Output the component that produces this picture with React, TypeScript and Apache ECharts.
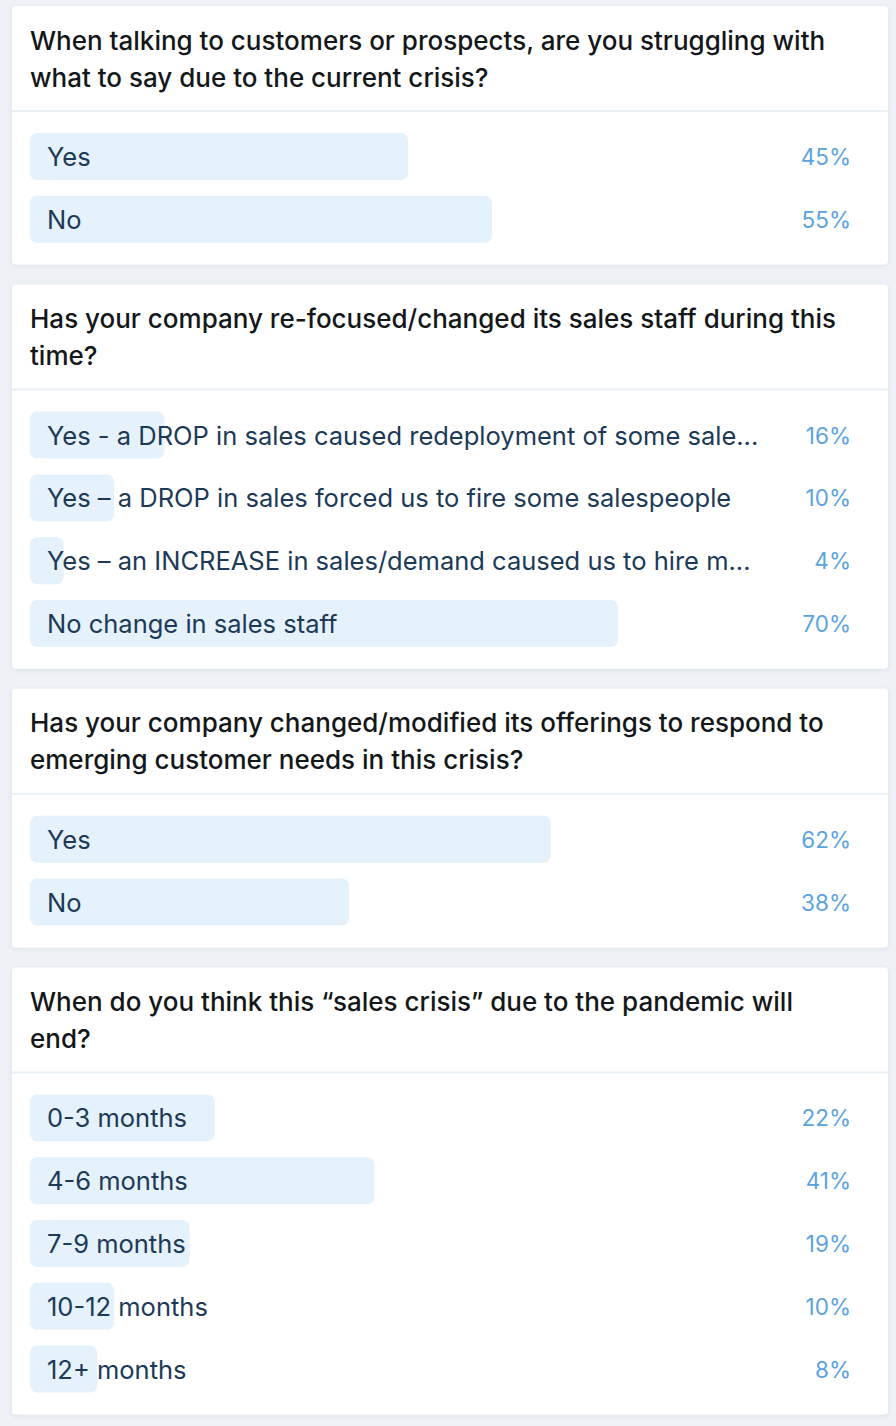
import React, { useEffect, useRef } from "react";
import * as echarts from "echarts";

const q1Title = "When talking to customers or prospects, are you struggling with\nwhat to say due to the current crisis?";
const q1Options = ["Yes", "No"];
const q1Values = [45, 55];

const q2Title = "Has your company re-focused/changed its sales staff during this\ntime?";
const q2Options = [
  "Yes - a DROP in sales caused redeployment of some sale...",
  "Yes \u2013 a DROP in sales forced us to fire some salespeople",
  "Yes \u2013 an INCREASE in sales/demand caused us to hire m...",
  "No change in sales staff",
];
const q2Values = [16, 10, 4, 70];

const q3Title = "Has your company changed/modified its offerings to respond to\nemerging customer needs in this crisis?";
const q3Options = ["Yes", "No"];
const q3Values = [62, 38];

const q4Title = "When do you think this \u201csales crisis\u201d due to the pandemic will\nend?";
const q4Options = ["0-3 months", "4-6 months", "7-9 months", "10-12 months", "12+ months"];
const q4Values = [22, 41, 19, 10, 8];

const questions = [
  { title: q1Title, options: q1Options, values: q1Values },
  { title: q2Title, options: q2Options, values: q2Values },
  { title: q3Title, options: q3Options, values: q3Values },
  { title: q4Title, options: q4Options, values: q4Values },
];

const W = 896;
const H = 1426;
const FONT = "Inter, 'Noto Sans', sans-serif";

export default function App() {
  const ref = useRef<HTMLDivElement>(null);
  useEffect(() => {
    document.body.style.margin = "0";
    document.body.style.background = "#eef1f6";
    const chart = echarts.init(ref.current!, null, { renderer: "svg" });
    const cardX = 12;
    const cardW = 876;
    const pitch = 62.8;
    let top = 6;
    const graphic: any[] = [];
    const grid: any[] = [];
    const xAxis: any[] = [];
    const yAxis: any[] = [];
    const series: any[] = [];
    questions.forEach((q, i) => {
      const n = q.options.length;
      const cardH = 133 + pitch * n;
      graphic.push({
        type: "rect",
        shape: { x: cardX, y: top, width: cardW, height: cardH, r: 4 },
        style: { fill: "#ffffff", shadowBlur: 4, shadowColor: "rgba(40,60,90,0.08)", shadowOffsetY: 1 },
        z: 0,
      });
      graphic.push({
        type: "rect",
        shape: { x: cardX, y: top + 104, width: cardW, height: 2 },
        style: { fill: "#eaeff5" },
        z: 1,
      });
      graphic.push({
        type: "text",
        x: 30,
        y: top + 15.5,
        style: {
          text: q.title,
          font: `500 26px ${FONT}`,
          fill: "#14171a",
          lineHeight: 37,
          textVerticalAlign: "top",
        },
        z: 2,
      });
      const gTop = top + 150.5 - pitch / 2;
      grid.push({ left: 30, width: 840, top: gTop, height: pitch * n });
      xAxis.push({ type: "value", gridIndex: i, min: 0, max: 100, show: false });
      yAxis.push({
        type: "category",
        gridIndex: i,
        data: q.options,
        inverse: true,
        position: "right",
        axisLine: { show: false },
        axisTick: { show: false },
        splitLine: { show: false },
        axisLabel: {
          inside: true,
          margin: 19,
          color: "#5ba3df",
          fontSize: 22.5,
          fontFamily: FONT,
          formatter: (_v: string, idx: number) => q.values[idx] + "%",
        },
      });
      series.push({
        type: "bar",
        xAxisIndex: i,
        yAxisIndex: i,
        data: q.values,
        barWidth: 47,
        itemStyle: { color: "#e5f1fb", borderRadius: 7 },
        label: {
          show: true,
          position: "insideLeft",
          distance: 17,
          formatter: "{b}",
          color: "#1c3a57",
          fontSize: 25.5,
          fontFamily: FONT,
        },
        z: 3,
      });
      top += cardH + 20;
    });
    chart.setOption({
      animation: false,
      backgroundColor: "#eef1f6",
      graphic,
      grid,
      xAxis,
      yAxis,
      series,
    });
    return () => chart.dispose();
  }, []);
  return <div ref={ref} style={{ width: W, height: H }} />;
}
